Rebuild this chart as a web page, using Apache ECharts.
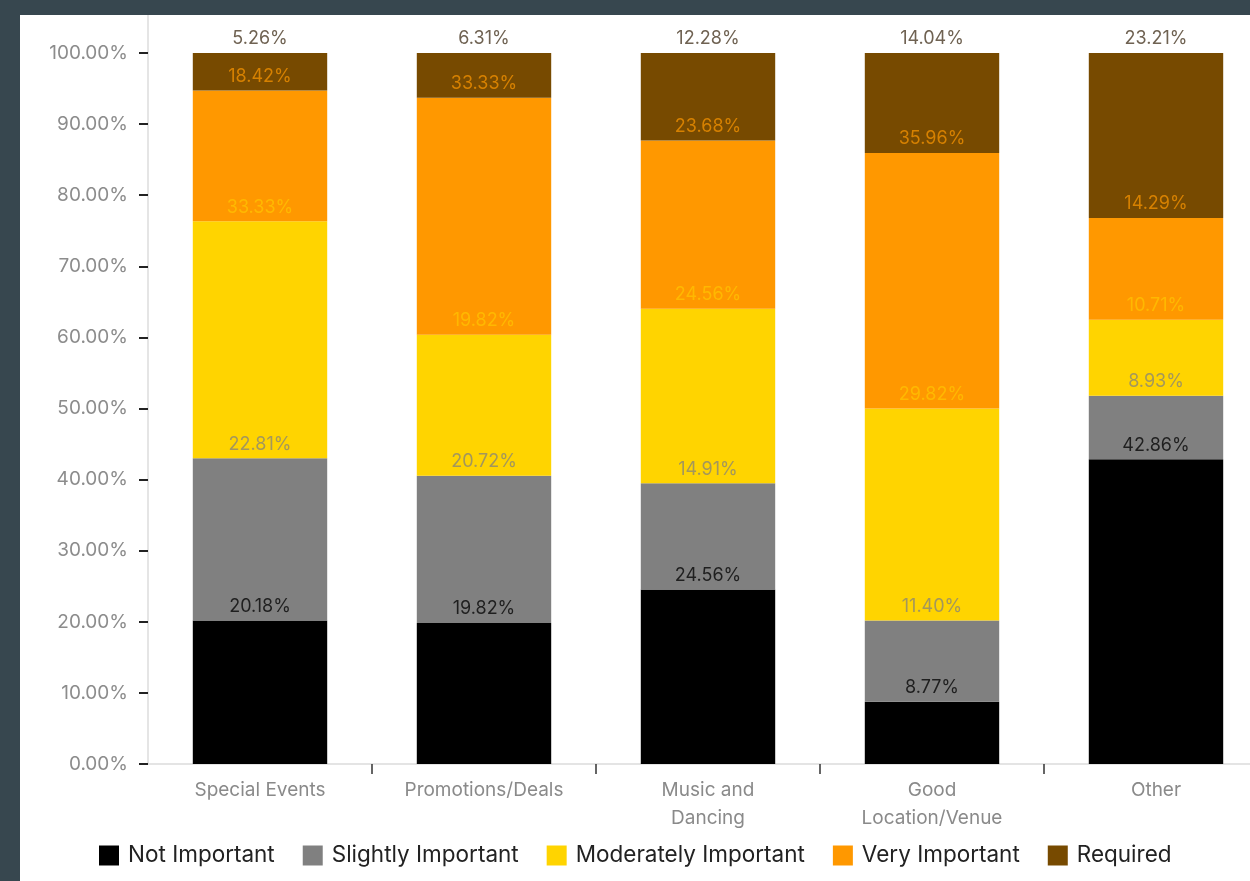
<!DOCTYPE html>
<html>
<head>
<meta charset="utf-8">
<script src="https://cdn.jsdelivr.net/npm/echarts@6/dist/echarts.min.js"></script>
<style>
  html, body { margin: 0; padding: 0; width: 1250px; height: 881px; background: #37474f; overflow: hidden; position: relative; }
  #chart { position: absolute; left: 20px; top: 15px; width: 1248px; height: 866px; background: #ffffff; }
</style>
</head>
<body>
<div id="chart"></div>
<script>
// Share of responses per importance level, by category (percent)
const categories = ['Special Events', 'Promotions/Deals', 'Music and\nDancing', 'Good\nLocation/Venue', 'Other'];
const notImportant = [20.18, 19.82, 24.56, 8.77, 42.86];
const slightlyImportant = [22.81, 20.72, 14.91, 11.40, 8.93];
const moderatelyImportant = [33.33, 19.82, 24.56, 29.82, 10.71];
const veryImportant = [18.42, 33.33, 23.68, 35.96, 14.29];
const required = [5.26, 6.31, 12.28, 14.04, 23.21];
const yTicks = [0, 10, 20, 30, 40, 50, 60, 70, 80, 90, 100];

const FONT = 'Inter, "Noto Sans", sans-serif';

const seriesDefs = [
  { name: 'Not Important', data: notImportant, color: '#000000', labelColor: '#1f1f1f' },
  { name: 'Slightly Important', data: slightlyImportant, color: '#808080', labelColor: 'rgba(128,128,128,0.72)' },
  { name: 'Moderately Important', data: moderatelyImportant, color: '#ffd400', labelColor: 'rgba(255,212,0,0.55)' },
  { name: 'Very Important', data: veryImportant, color: '#ff9800', labelColor: 'rgba(255,152,0,0.7)' },
  { name: 'Required', data: required, color: '#774a00', labelColor: '#6f6252' }
];

const chart = echarts.init(document.getElementById('chart'), null, { renderer: 'canvas' });

chart.setOption({
  animation: false,
  backgroundColor: '#ffffff',
  grid: { left: 128, right: 0, top: 38, bottom: 117, containLabel: false },
  legend: {
    top: 824,
    left: 74,
    icon: 'rect',
    itemWidth: 20,
    itemHeight: 20,
    itemGap: 28,
    textStyle: { fontFamily: FONT, fontSize: 22.5, color: '#222222', padding: [0, 0, 0, 4] },
    data: seriesDefs.map(s => s.name)
  },
  xAxis: {
    type: 'category',
    data: categories,
    axisLine: { show: true, lineStyle: { color: '#dcdcdc', width: 1.5 } },
    axisTick: {
      show: true,
      length: 10,
      lineStyle: { color: '#333333', width: 1.5 },
      interval: (index) => index > 0
    },
    axisLabel: {
      fontFamily: FONT,
      fontSize: 19,
      color: '#8a8a8a',
      margin: 12,
      lineHeight: 28
    }
  },
  yAxis: {
    type: 'value',
    min: 0,
    max: 100,
    interval: 10,
    axisLine: { show: true, lineStyle: { color: '#dcdcdc', width: 1.5 } },
    axisTick: { show: true, length: 9, lineStyle: { color: '#222222', width: 2 } },
    splitLine: { show: false },
    axisLabel: {
      fontFamily: FONT,
      fontSize: 19,
      color: '#8c8c8c',
      margin: 20,
      formatter: (v) => yTicks.includes(v) ? v.toFixed(2) + '%' : ''
    }
  },
  // axis line continues above the 100% mark to the top of the panel
  graphic: [{
    type: 'line',
    shape: { x1: 128, y1: 0, x2: 128, y2: 38 },
    style: { stroke: '#dcdcdc', lineWidth: 1.5 },
    silent: true
  }],
  series: seriesDefs.map(s => ({
    name: s.name,
    type: 'bar',
    stack: 'total',
    barCategoryGap: '40%',
    data: s.data,
    itemStyle: { color: s.color },
    label: {
      show: true,
      position: 'top',
      distance: 5,
      fontFamily: FONT,
      fontSize: 18,
      color: s.labelColor,
      formatter: (p) => p.value.toFixed(2) + '%'
    }
  }))
});
</script>
</body>
</html>
